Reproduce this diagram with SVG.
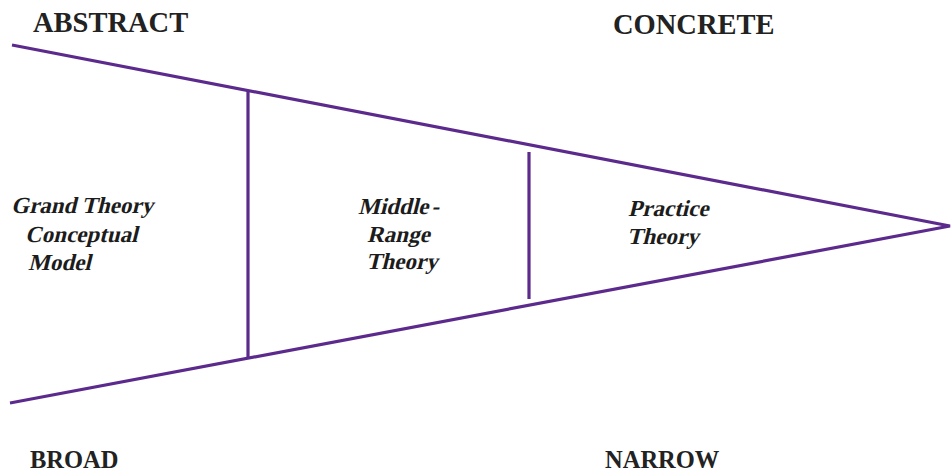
<svg xmlns="http://www.w3.org/2000/svg" width="951" height="473" viewBox="0 0 951 473">
  <style>
    .edge { stroke: #5b2a8c; stroke-width: 3.2; fill: none; stroke-linecap: butt; }
    .head { font-family: "Liberation Serif", serif; font-weight: bold; fill: #222; }
    .lab { font-family: "Liberation Serif", serif; font-weight: 700; font-size: 23px; fill: #1c1c1c; }
  </style>
  <rect width="951" height="473" fill="#ffffff"/>
  <g id="connectors">
    <path class="edge" d="M12,45 L950,226 L10,403"/>
    <line class="edge" x1="248" y1="90" x2="248" y2="359"/>
    <line class="edge" x1="529" y1="152" x2="529" y2="299"/>
  </g>
  <g id="abstract"><text class="head" x="33" y="32" font-size="28.5">ABSTRACT</text></g>
  <g id="concrete"><text class="head" x="613" y="34" font-size="28.5">CONCRETE</text></g>
  <g id="broad"><text class="head" x="30" y="468" font-size="24.5">BROAD</text></g>
  <g id="narrow"><text class="head" x="605" y="468" font-size="24.5">NARROW</text></g>
  <g id="grand">
    <text class="lab" transform="translate(11,213) skewX(-14)">Grand Theory</text>
    <text class="lab" transform="translate(25,242) skewX(-14)">Conceptual</text>
    <text class="lab" transform="translate(28,270) skewX(-14)">Model</text>
  </g>
  <g id="middle">
    <text class="lab" transform="translate(358,214) skewX(-14)">Middle<tspan dx="3">-</tspan></text>
    <text class="lab" transform="translate(367,242) skewX(-14)">Range</text>
    <text class="lab" transform="translate(366,269) skewX(-14)">Theory</text>
  </g>
  <g id="practice">
    <text class="lab" transform="translate(628,216) skewX(-14)">Practice</text>
    <text class="lab" transform="translate(627,244) skewX(-14)">Theory</text>
  </g>
</svg>
